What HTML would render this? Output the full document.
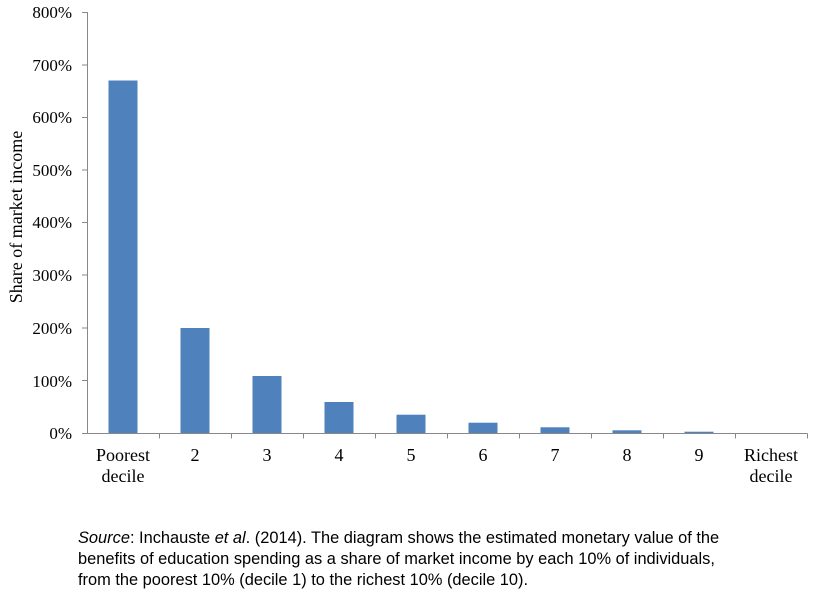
<!DOCTYPE html>
<html><head><meta charset="utf-8"><style>
body{margin:0;background:#fff;width:815px;height:596px;overflow:hidden}
svg{display:block}
</style></head><body>
<svg width="815" height="596" xmlns="http://www.w3.org/2000/svg">
<g font-family="Liberation Serif, serif" font-size="17" fill="#000">
<g text-anchor="end">
<text x="72" y="18">800%</text>
<text x="72" y="71">700%</text>
<text x="72" y="123">600%</text>
<text x="72" y="176">500%</text>
<text x="72" y="228">400%</text>
<text x="72" y="281">300%</text>
<text x="72" y="334">200%</text>
<text x="72" y="387">100%</text>
<text x="72" y="439">0%</text>
</g>
<text transform="translate(22,217) rotate(-90)" text-anchor="middle" font-size="18">Share of market income</text>
<g text-anchor="middle" font-size="18">
<text x="123" y="461">Poorest</text><text x="123" y="482">decile</text>
<text x="195" y="461">2</text><text x="267" y="461">3</text><text x="339" y="461">4</text>
<text x="411" y="461">5</text><text x="483" y="461">6</text><text x="555" y="461">7</text>
<text x="627" y="461">8</text><text x="699" y="461">9</text>
<text x="771" y="461">Richest</text><text x="771" y="482">decile</text>
</g>
</g>
<g fill="#4f81bd">
<rect x="108.5" y="80.5" width="29" height="353"/>
<rect x="180.5" y="328" width="29" height="105.5"/>
<rect x="252.5" y="376" width="29" height="57.5"/>
<rect x="324.5" y="402" width="29" height="31.5"/>
<rect x="396.5" y="414.7" width="29" height="18.8"/>
<rect x="468.5" y="422.7" width="29" height="10.8"/>
<rect x="540.5" y="427.3" width="29" height="6.2"/>
<rect x="612.5" y="430.3" width="29" height="3.2"/>
<rect x="684.5" y="431.7" width="29" height="1.8"/>
</g>
<g stroke="#888" stroke-width="1" fill="none">
<path d="M87.5 12V433.5H807.5"/>
<path d="M82 12.5H87.5M82 65H87.5M82 117.5H87.5M82 170H87.5M82 222.5H87.5M82 275H87.5M82 328H87.5M82 380.5H87.5M82 433.5H87.5"/>
<path d="M159.5 433.5v5M231.5 433.5v5M303.5 433.5v5M375.5 433.5v5M447.5 433.5v5M519.5 433.5v5M591.5 433.5v5M663.5 433.5v5M735.5 433.5v5M807.5 433.5v5"/>
</g>
<g font-family="Liberation Sans, sans-serif" font-size="16.4" fill="#000">
<text x="78" y="543"><tspan font-style="italic">Source</tspan>: Inchauste <tspan font-style="italic">et al</tspan>. (2014). The diagram shows the estimated monetary value of the</text>
<text x="78" y="564">benefits of education spending as a share of market income by each 10% of individuals,</text>
<text x="78" y="585">from the poorest 10% (decile 1) to the richest 10% (decile 10).</text>
</g>
</svg>
</body></html>
